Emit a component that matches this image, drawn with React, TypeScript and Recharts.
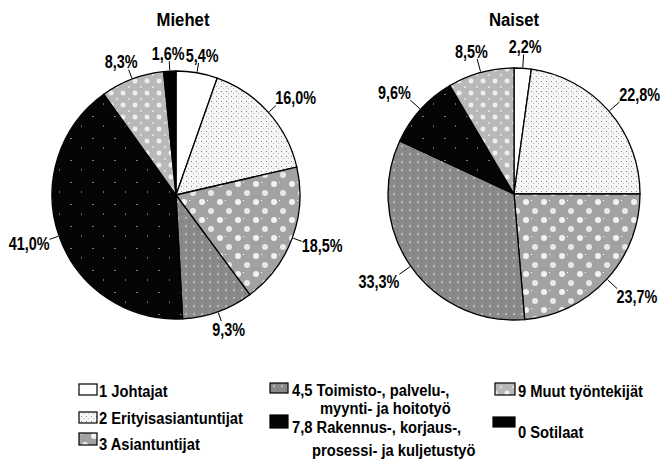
import { PieChart, Pie, Cell } from "recharts";

// ammattiryhmät, järjestys myötäpäivään klo 12:sta
const categories = [
  "1 Johtajat",
  "2 Erityisasiantuntijat",
  "3 Asiantuntijat",
  "4,5 Toimisto-, palvelu-, myynti- ja hoitotyö",
  "7,8 Rakennus-, korjaus-, prosessi- ja kuljetustyö",
  "9 Muut työntekijät",
  "0 Sotilaat",
];
const legendLines = [
  ["1 Johtajat"],
  ["2 Erityisasiantuntijat"],
  ["3 Asiantuntijat"],
  ["4,5 Toimisto-, palvelu-,", "myynti- ja hoitotyö"],
  ["7,8 Rakennus-, korjaus-,", "prosessi-  ja kuljetustyö"],
  ["9 Muut työntekijät"],
  ["0 Sotilaat"],
];
const menValues = [5.4, 16.0, 18.5, 9.3, 41.0, 8.3, 1.6];
const womenValues = [2.2, 22.8, 23.7, 33.3, 9.6, 8.5, 0];

const FILLS = [
  "#ffffff",
  "url(#p-erit)",
  "url(#p-asian)",
  "url(#p-toim)",
  "url(#p-rak)",
  "url(#p-muut)",
  "#000000",
];

const FONT = '"Liberation Sans", Arial, sans-serif';
const RAD = Math.PI / 180;

// legend layout: box x/y/w/h, text rows (x, y)
const LEGEND_POS = [
  { bx: 79, by: 384, bw: 18, bh: 11, rows: [[99, 391]] },
  { bx: 79, by: 412, bw: 18, bh: 11, rows: [[99, 418]] },
  { bx: 79, by: 433, bw: 18, bh: 12, rows: [[99, 444]] },
  { bx: 270, by: 383, bw: 18, bh: 10, rows: [[292, 390], [320, 408]] },
  { bx: 270, by: 415, bw: 18, bh: 13, rows: [[292, 427], [312, 450]] },
  { bx: 495, by: 383, bw: 20, bh: 12, rows: [[518, 391]] },
  { bx: 493, by: 417, bw: 22, bh: 10, rows: [[518, 432]] },
];

const toRows = (values: number[]) =>
  values
    .map((v, i) => ({ name: categories[i], value: v, fill: FILLS[i] }))
    .filter((d) => d.value > 0);

const fmt = (v: number) => v.toFixed(1).replace(".", ",") + "%";
const clamp = (v: number) => Math.max(-1, Math.min(1, v));

// condensed-looking text: larger font squeezed horizontally
function NarrowText({ x, y, size, sx, anchor, children }: any) {
  return (
    <text
      transform={`translate(${x},${y}) scale(${sx},1)`}
      textAnchor={anchor}
      dominantBaseline="central"
      fontFamily={FONT}
      fontWeight={700}
      fontSize={size}
      fill="#000"
    >
      {children}
    </text>
  );
}

function makeLabel(lineLen: number) {
  return function PctLabel(props: any) {
    const { cx, cy, midAngle, outerRadius, value } = props;
    const cos = Math.cos(-midAngle * RAD);
    const sin = Math.sin(-midAngle * RAD);
    const text = fmt(value);
    const halfW = text.length * 4.1;
    const halfH = 8;
    const x1 = cx + (outerRadius + 1) * cos;
    const y1 = cy + (outerRadius + 1) * sin;
    const x2 = cx + (outerRadius + lineLen) * cos;
    const y2 = cy + (outerRadius + lineLen) * sin;
    const tx = x2 + halfW * clamp(cos * 1.3);
    const ty = y2 + halfH * clamp(sin * 1.6);
    return (
      <g>
        <line x1={x1} y1={y1} x2={x2} y2={y2} stroke="#000" strokeWidth={1} />
        <NarrowText x={tx} y={ty} size={18} sx={0.8} anchor="middle">
          {text}
        </NarrowText>
      </g>
    );
  };
}

function Patterns() {
  return (
    <svg width={0} height={0} style={{ position: "absolute" }}>
      <defs>
        <pattern id="p-erit" width={5} height={5} patternUnits="userSpaceOnUse">
          <rect width={5} height={5} fill="#f6f6f6" />
          <rect x={1} y={1} width={1} height={1} fill="#888" />
          <rect x={3} y={3} width={1} height={1} fill="#bbb" />
        </pattern>
        <pattern id="p-asian" width={18} height={18} patternUnits="userSpaceOnUse">
          <rect width={18} height={18} fill="#a2a2a2" />
          <circle cx={4} cy={4} r={3} fill="#f2f2f2" />
          <circle cx={13} cy={13} r={3} fill="#e8e8e8" />
          <rect x={9} y={2} width={1} height={1} fill="#fff" />
        </pattern>
        <pattern id="p-toim" width={8} height={8} patternUnits="userSpaceOnUse">
          <rect width={8} height={8} fill="#8a8a8a" />
          <rect x={1} y={1} width={2} height={2} fill="#b8b8b8" />
          <rect x={5} y={5} width={1} height={1} fill="#555" />
        </pattern>
        <pattern id="p-rak" width={22} height={22} patternUnits="userSpaceOnUse">
          <rect width={22} height={22} fill="#050505" />
          <rect x={4} y={6} width={2} height={1} fill="#777" />
          <rect x={15} y={15} width={1} height={2} fill="#666" />
        </pattern>
        <pattern id="p-muut" width={12} height={12} patternUnits="userSpaceOnUse">
          <rect width={12} height={12} fill="#b8b8b8" />
          <circle cx={3} cy={9} r={2.5} fill="#eeeeee" />
          <rect x={8} y={2} width={2} height={2} fill="#dddddd" />
        </pattern>
      </defs>
    </svg>
  );
}

export default function App() {
  const men = toRows(menValues);
  const women = toRows(womenValues);
  return (
    <div style={{ position: "fixed", left: 0, top: 0, width: 671, height: 459, background: "#fff" }}>
      <Patterns />
      <PieChart width={671} height={459} margin={{ top: 0, right: 0, bottom: 0, left: 0 }}>
        <Pie
          data={men}
          dataKey="value"
          cx={176}
          cy={195}
          outerRadius={124}
          startAngle={90}
          endAngle={-270}
          stroke="#000"
          strokeWidth={1.3}
          label={makeLabel(10)}
          labelLine={false}
          isAnimationActive={false}
        >
          {men.map((d) => (
            <Cell key={d.name} fill={d.fill} />
          ))}
        </Pie>
        <Pie
          data={women}
          dataKey="value"
          cx={514}
          cy={194}
          outerRadius={126}
          startAngle={90}
          endAngle={-270}
          stroke="#000"
          strokeWidth={1.3}
          label={makeLabel(14)}
          labelLine={false}
          isAnimationActive={false}
        >
          {women.map((d) => (
            <Cell key={d.name} fill={d.fill} />
          ))}
        </Pie>
      </PieChart>
      <svg
        width={671}
        height={459}
        style={{ position: "absolute", left: 0, top: 0, pointerEvents: "none" }}
      >
        <NarrowText x={183} y={20} size={19} sx={0.88} anchor="middle">
          Miehet
        </NarrowText>
        <NarrowText x={514} y={20} size={19} sx={0.88} anchor="middle">
          Naiset
        </NarrowText>
        {LEGEND_POS.map((p, i) => (
          <g key={categories[i]}>
            <rect x={p.bx} y={p.by} width={p.bw} height={p.bh} fill={FILLS[i]} stroke="#000" strokeWidth={1.2} />
            {p.rows.map(([x, y], j) => (
              <NarrowText key={j} x={x} y={y} size={16} sx={0.92} anchor="start">
                {legendLines[i][j]}
              </NarrowText>
            ))}
          </g>
        ))}
      </svg>
    </div>
  );
}
